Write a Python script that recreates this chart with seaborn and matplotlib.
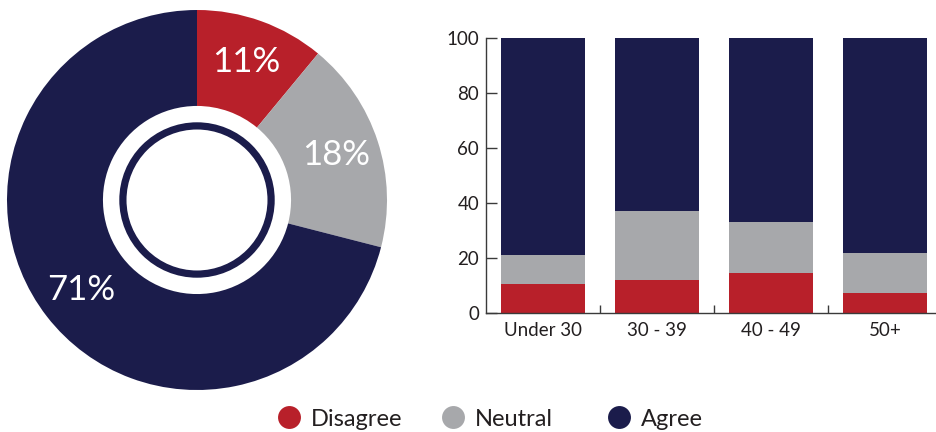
import matplotlib
matplotlib.use("Agg")
import matplotlib.pyplot as plt
from matplotlib.patches import Circle
from matplotlib.lines import Line2D
from matplotlib.ticker import FixedLocator
import numpy as np
import pandas as pd
import seaborn as sns

# Overall response shares (%)
responses = ["Disagree", "Neutral", "Agree"]
overall_share = [11, 18, 71]

# Responses by age group (%)
age_groups = ["Under 30", "30 - 39", "40 - 49", "50+"]
disagree = [10.7, 12.1, 14.7, 7.4]
neutral = [10.5, 25.1, 18.5, 14.5]
agree = [78.8, 62.8, 66.8, 78.1]

colors = {"Disagree": "#B8202A", "Neutral": "#A7A8AB", "Agree": "#1B1C4B"}
text_color = "#231F20"

sns.set_style("ticks")
plt.rcParams["font.family"] = ["Lato", "DejaVu Sans"]

fig = plt.figure(figsize=(9.36, 4.32), dpi=100)
W, H = 936, 432

# ---- donut ----
ax_pie = fig.add_axes([7 / W, (H - 390) / H, 380 / W, 380 / H])
wedges, _, pct = ax_pie.pie(
    overall_share,
    colors=[colors[r] for r in responses],
    startangle=90,
    counterclock=False,
    radius=1.0,
    wedgeprops=dict(width=1.0 - 0.495, linewidth=0),
    autopct=lambda p: f"{p:.0f}%",
    pctdistance=0.77,
    textprops=dict(color="white", fontsize=25),
)
ax_pie.add_patch(Circle((0, 0), 0.39, fill=False, edgecolor=colors["Agree"], linewidth=5.2))
ax_pie.set_xlim(-1, 1)
ax_pie.set_ylim(-1, 1)
ax_pie.set_aspect("equal")
ax_pie.axis("off")

# ---- stacked bars by age ----
df = pd.DataFrame({
    "age": age_groups,
    "disagree": disagree,
    "neutral": neutral,
    "agree": agree,
})
df["top_neutral"] = df["disagree"] + df["neutral"]
df["top_agree"] = df["top_neutral"] + df["agree"]

ax = fig.add_axes([486 / W, (H - 313.3) / H, 456 / W, 275 / H])
sns.barplot(data=df, x="age", y="top_agree", color=colors["Agree"], width=0.73,
            saturation=1, ax=ax, linewidth=0)
sns.barplot(data=df, x="age", y="top_neutral", color=colors["Neutral"], width=0.73,
            saturation=1, ax=ax, linewidth=0)
sns.barplot(data=df, x="age", y="disagree", color=colors["Disagree"], width=0.73,
            saturation=1, ax=ax, linewidth=0)

ax.set_xlim(-0.5, 3.5)
ax.set_ylim(0, 100)
ax.set_yticks([0, 20, 40, 60, 80, 100])
ax.set_xlabel("")
ax.set_ylabel("")
for s in ["top", "right"]:
    ax.spines[s].set_visible(False)
for s in ["left", "bottom"]:
    ax.spines[s].set_color("#3a3a3a")
    ax.spines[s].set_linewidth(1.0)
ax.tick_params(axis="y", direction="in", length=8, width=1, color="#3a3a3a",
               labelsize=13.5, labelcolor=text_color, pad=5)
ax.tick_params(axis="x", which="major", length=0, labelsize=13.5,
               labelcolor=text_color, pad=6)
ax.xaxis.set_minor_locator(FixedLocator([0.5, 1.5, 2.5]))
ax.tick_params(axis="x", which="minor", direction="in", length=6, width=1,
               color="#3a3a3a")

# ---- legend: one entry per response, spaced along the bottom ----
legend_left_px = [277, 441, 607]
for label, left in zip(responses, legend_left_px):
    handle = Line2D([0], [0], marker="o", linestyle="", markersize=16.5,
                    markerfacecolor=colors[label], markeredgewidth=0)
    leg = fig.legend([handle], [label], loc="center left",
                     bbox_to_anchor=(left / W, 13 / H), frameon=False,
                     fontsize=17, handletextpad=0.45, handlelength=1.0,
                     borderpad=0, borderaxespad=0, labelcolor=text_color)

fig.savefig("out.png", dpi=100)
